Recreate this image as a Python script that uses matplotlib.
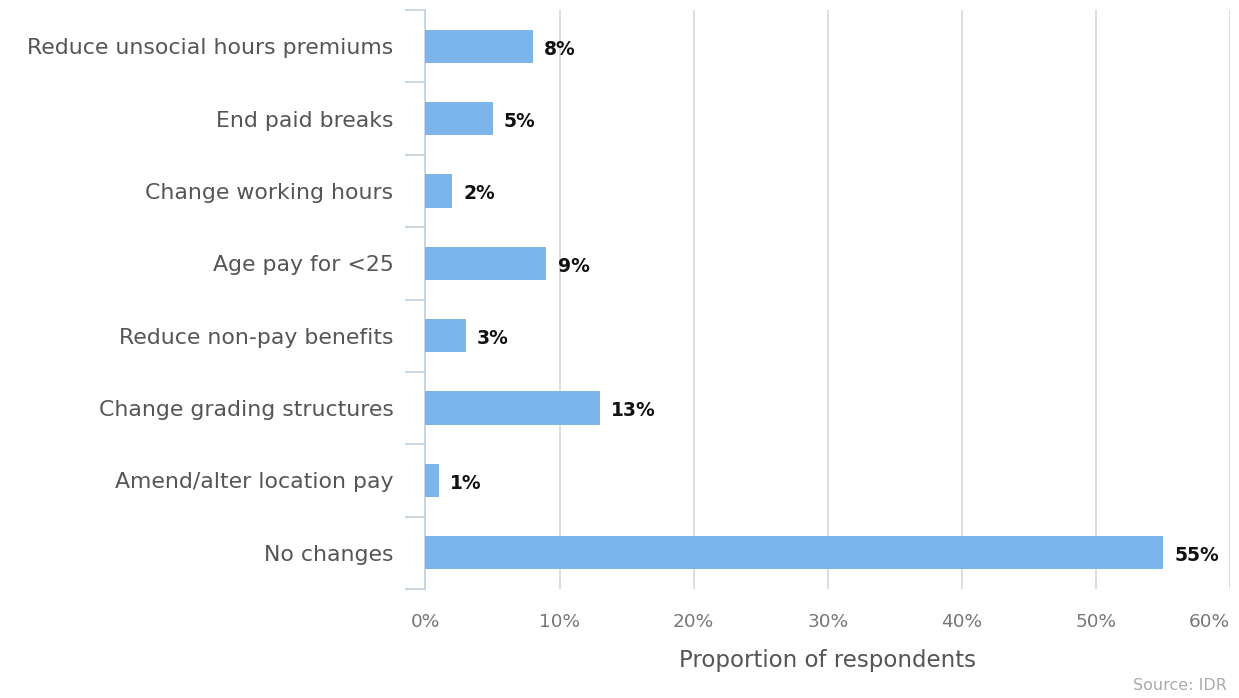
import matplotlib
matplotlib.use("Agg")
import matplotlib.pyplot as plt
from matplotlib.ticker import FuncFormatter

categories = [
    "Reduce unsocial hours premiums",
    "End paid breaks",
    "Change working hours",
    "Age pay for <25",
    "Reduce non-pay benefits",
    "Change grading structures",
    "Amend/alter location pay",
    "No changes",
]
values = [8, 5, 2, 9, 3, 13, 1, 55]
x_ticks = [0, 10, 20, 30, 40, 50, 60]
x_title = "Proportion of respondents"
source = "Source: IDR"

plt.rcParams["font.family"] = ["DejaVu Sans"]

fig = plt.figure(figsize=(12.39, 6.98), dpi=100)
W, H = 1239, 698
ax = fig.add_axes([425.5 / W, 1 - 589 / H, (1230 - 425.5) / W, (589 - 10) / H])

n = len(categories)
ypos = list(range(n))
ax.barh(ypos, values, height=0.46, color="#7cb5ec", zorder=3)
ax.set_ylim(n - 0.5, -0.5)
ax.set_xlim(0, 60)

for y, v in zip(ypos, values):
    ax.text(v + 0.85, y + 0.04, f"{v}%", va="center", ha="left",
            fontsize=13.5, fontweight="bold", color="#111111")

ax.set_xticks(x_ticks)
ax.xaxis.set_major_formatter(FuncFormatter(lambda v, p: f"{v:.0f}%"))
ax.tick_params(axis="x", length=0, pad=17, labelsize=13.3, labelcolor="#777777")
ax.grid(axis="x", color="#d8d8d8", linewidth=1.2, zorder=0)

ax.set_yticks(ypos)
ax.set_yticklabels(categories)
ax.set_yticks([i - 0.5 for i in range(n + 1)], minor=True)
ax.tick_params(axis="y", which="major", length=0, pad=23, labelsize=15.8,
               labelcolor="#555555")
ax.tick_params(axis="y", which="minor", length=14.5, color="#c0d0e0", width=1.2)

for s in ["top", "right", "bottom"]:
    ax.spines[s].set_visible(False)
ax.spines["left"].set_color("#c0d0e0")
ax.spines["left"].set_linewidth(1.2)

ax.set_xlabel(x_title, fontsize=16.5, color="#555555", labelpad=13)
fig.text(1227 / W, 1 - 690 / H, source, ha="right", va="baseline",
         fontsize=11.5, color="#aaaaaa")

fig.canvas.draw()
last = ax.get_xticklabels()[-1]
last.set_horizontalalignment("right")
last.set_x(60.0)

fig.savefig("out.png", dpi=100)
